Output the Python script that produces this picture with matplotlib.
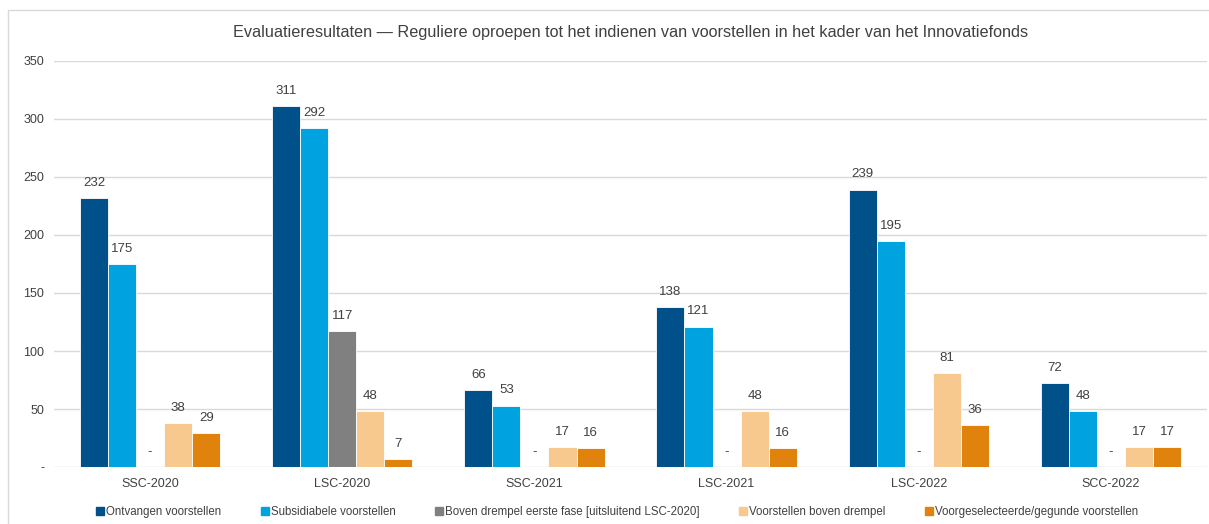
import numpy as np
import matplotlib.pyplot as plt
from matplotlib.patches import Rectangle
from matplotlib.lines import Line2D

plt.rcParams['font.family'] = ['Liberation Sans', 'DejaVu Sans']

# data
calls = ['SSC-2020', 'LSC-2020', 'SSC-2021', 'LSC-2021', 'LSC-2022', 'SCC-2022']
series = ['Ontvangen voorstellen', 'Subsidiabele voorstellen',
          'Boven drempel eerste fase [uitsluitend LSC-2020]',
          'Voorstellen boven drempel', 'Voorgeselecteerde/gegunde voorstellen']
ontvangen = [232, 311, 66, 138, 239, 72]
subsidiabel = [175, 292, 53, 121, 195, 48]
boven_eerste = [0, 117, 0, 0, 0, 0]
boven_drempel = [38, 48, 17, 48, 81, 17]
geselecteerd = [29, 7, 16, 16, 36, 17]
colors = ['#00508A', '#00A3E0', '#808080', '#F8C98F', '#E0830D']

values = [ontvangen, subsidiabel, boven_eerste, boven_drempel, geselecteerd]

fig = plt.figure(figsize=(12.09, 5.24), dpi=100)
ax = fig.add_axes([54/1209, 1-467/524, 1153/1209, 406/524])

# chart frame
fig.patches.append(Rectangle((8/1209, -0.1), 1.2, 1-10/524+0.1, transform=fig.transFigure,
                             fill=False, edgecolor='#D9D9D9', linewidth=1, zorder=0))

x = np.arange(len(calls))
w = 0.146
txt = '#404040'
for i, vals in enumerate(values):
    pos = x + (i-2)*w
    ax.bar(pos, vals, w, color=colors[i], edgecolor='white', linewidth=0.6, zorder=3)
    for p, v in zip(pos, vals):
        lab = str(v) if v > 0 else '-'
        ax.text(p, v + 8, lab, ha='center', va='bottom', fontsize=9.5, color=txt)

ax.set_xlim(-0.5, len(calls)-0.5)
ax.set_ylim(0, 350)
ax.set_yticks(np.arange(0, 351, 50))
ax.set_yticklabels(['-'] + [str(t) for t in range(50, 351, 50)])
ax.set_xticks(x)
ax.set_xticklabels(calls)
ax.tick_params(length=0, labelsize=9, colors=txt)
ax.tick_params(axis='y', pad=7)
ax.tick_params(axis='x', pad=8)
ax.grid(axis='y', color='#D9D9D9', linewidth=1, zorder=0)
for s in ax.spines.values():
    s.set_visible(False)

ax.set_title('Evaluatieresultaten \u2014 Reguliere oproepen tot het indienen van voorstellen in het kader van het Innovatiefonds',
             fontsize=11.7, color=txt, pad=17)

handles = [Line2D([], [], marker='s', linestyle='', color=c, markersize=5.5) for c in colors]
fig.legend(handles, series, loc='center', bbox_to_anchor=(617/1209, 1-512/524), ncol=5,
           frameon=False, fontsize=8.3, handletextpad=0.1, columnspacing=3.4,
           labelcolor=txt, handlelength=0.8)

fig.savefig('out.png', dpi=100)
